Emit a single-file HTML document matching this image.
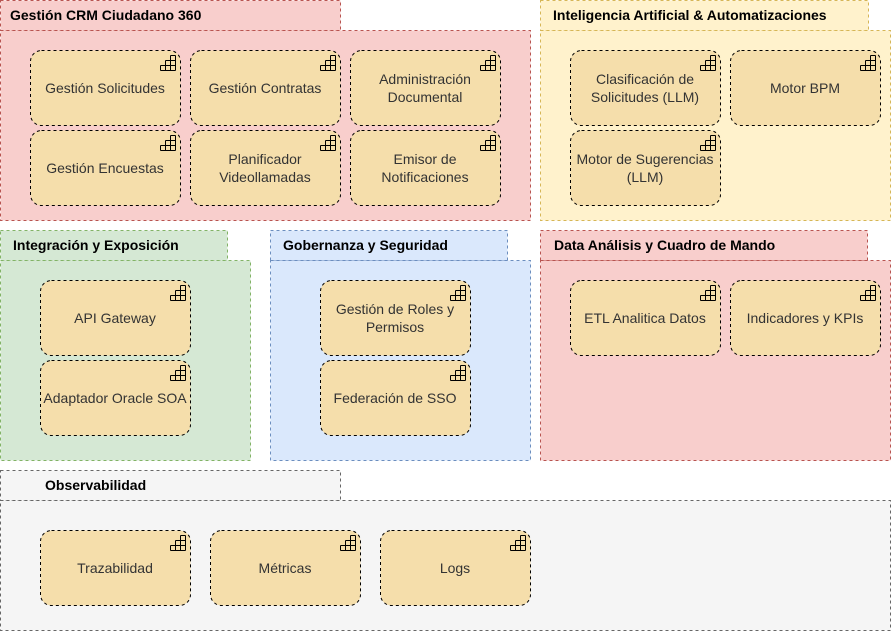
<!DOCTYPE html>
<html><head><meta charset="utf-8"><style>
html,body{margin:0;padding:0;background:#fff;}
svg{display:block;font-family:"Liberation Sans",Arial,sans-serif;}
.t{font-size:14px;font-weight:bold;fill:#000;}
.n{font-size:14px;fill:#333;text-anchor:middle;}
</style></head><body>
<svg width="892" height="631" viewBox="0 0 892 631" xmlns="http://www.w3.org/2000/svg">
<defs>
<g id="ic" fill="none" stroke="#000" stroke-width="1">
<path d="M0.5,10.5h15M0.5,15.5h15M5.5,5.5h10M10.5,0.5h5M0.5,10.5v5M5.5,5.5v10M10.5,0.5v15M15.5,0.5v15"/>
</g>
</defs>
<g stroke-dasharray="3,3" stroke-width="1">
<rect x="0.5" y="0.5" width="340" height="30" fill="#f8cecc" stroke="#b85450"/>
<rect x="0.5" y="30.5" width="530" height="190" fill="#f8cecc" stroke="#b85450"/>
<rect x="540.5" y="0.5" width="328" height="30" fill="#fff2cc" stroke="#d6b656"/>
<rect x="540.5" y="30.5" width="350" height="190" fill="#fff2cc" stroke="#d6b656"/>
<rect x="0.5" y="230.5" width="227" height="30" fill="#d5e8d4" stroke="#82b366"/>
<rect x="0.5" y="260.5" width="250" height="200" fill="#d5e8d4" stroke="#82b366"/>
<rect x="270.5" y="230.5" width="237" height="30" fill="#dae8fc" stroke="#6c8ebf"/>
<rect x="270.5" y="260.5" width="260" height="200" fill="#dae8fc" stroke="#6c8ebf"/>
<rect x="540.5" y="230.5" width="327" height="30" fill="#f8cecc" stroke="#b85450"/>
<rect x="540.5" y="260.5" width="350" height="200" fill="#f8cecc" stroke="#b85450"/>
<rect x="0.5" y="470.5" width="340" height="30" fill="#f5f5f5" stroke="#666666"/>
<rect x="0.5" y="500.5" width="890" height="130" fill="#f5f5f5" stroke="#666666"/>
</g>
<text class="t" x="10" y="20">Gestión CRM Ciudadano 360</text>
<text class="t" x="553" y="20">Inteligencia Artificial &amp; Automatizaciones</text>
<text class="t" x="13" y="250">Integración y Exposición</text>
<text class="t" x="283" y="250">Gobernanza y Seguridad</text>
<text class="t" x="554" y="250">Data Análisis y Cuadro de Mando</text>
<text class="t" x="45" y="490">Observabilidad</text>

<g fill="#f5deab" stroke="#000" stroke-dasharray="3,3">
<rect x="30.5" y="50.5" width="150" height="75" rx="11"/>
<rect x="190.5" y="50.5" width="150" height="75" rx="11"/>
<rect x="350.5" y="50.5" width="150" height="75" rx="11"/>
<rect x="30.5" y="130.5" width="150" height="75" rx="11"/>
<rect x="190.5" y="130.5" width="150" height="75" rx="11"/>
<rect x="350.5" y="130.5" width="150" height="75" rx="11"/>
<rect x="570.5" y="50.5" width="150" height="75" rx="11"/>
<rect x="730.5" y="50.5" width="150" height="75" rx="11"/>
<rect x="570.5" y="130.5" width="150" height="75" rx="11"/>
<rect x="40.5" y="280.5" width="150" height="75" rx="11"/>
<rect x="40.5" y="360.5" width="150" height="75" rx="11"/>
<rect x="320.5" y="280.5" width="150" height="75" rx="11"/>
<rect x="320.5" y="360.5" width="150" height="75" rx="11"/>
<rect x="570.5" y="280.5" width="150" height="75" rx="11"/>
<rect x="730.5" y="280.5" width="150" height="75" rx="11"/>
<rect x="40.5" y="530.5" width="150" height="75" rx="11"/>
<rect x="210.5" y="530.5" width="150" height="75" rx="11"/>
<rect x="380.5" y="530.5" width="150" height="75" rx="11"/>
</g>
<use href="#ic" x="160" y="55"/><use href="#ic" x="320" y="55"/><use href="#ic" x="480" y="55"/>
<use href="#ic" x="160" y="135"/><use href="#ic" x="320" y="135"/><use href="#ic" x="480" y="135"/>
<use href="#ic" x="700" y="55"/><use href="#ic" x="860" y="55"/><use href="#ic" x="700" y="135"/>
<use href="#ic" x="170" y="285"/><use href="#ic" x="170" y="365"/>
<use href="#ic" x="450" y="285"/><use href="#ic" x="450" y="365"/>
<use href="#ic" x="700" y="285"/><use href="#ic" x="860" y="285"/>
<use href="#ic" x="170" y="535"/><use href="#ic" x="340" y="535"/><use href="#ic" x="510" y="535"/>

<text class="n" x="105" y="93">Gestión Solicitudes</text>
<text class="n" x="265" y="93">Gestión Contratas</text>
<text class="n" x="425" y="84">Administración</text>
<text class="n" x="425" y="102">Documental</text>
<text class="n" x="105" y="173">Gestión Encuestas</text>
<text class="n" x="265" y="164">Planificador</text>
<text class="n" x="265" y="182">Videollamadas</text>
<text class="n" x="425" y="164">Emisor de</text>
<text class="n" x="425" y="182">Notificaciones</text>
<text class="n" x="645" y="84">Clasificación de</text>
<text class="n" x="645" y="102">Solicitudes (LLM)</text>
<text class="n" x="805" y="93">Motor BPM</text>
<text class="n" x="645" y="164">Motor de Sugerencias</text>
<text class="n" x="645" y="182">(LLM)</text>
<text class="n" x="115" y="323">API Gateway</text>
<text class="n" x="115" y="403">Adaptador Oracle SOA</text>
<text class="n" x="395" y="314">Gestión de Roles y</text>
<text class="n" x="395" y="332">Permisos</text>
<text class="n" x="395" y="403">Federación de SSO</text>
<text class="n" x="645" y="323">ETL Analitica Datos</text>
<text class="n" x="805" y="323">Indicadores y KPIs</text>
<text class="n" x="115" y="573">Trazabilidad</text>
<text class="n" x="285" y="573">Métricas</text>
<text class="n" x="455" y="573">Logs</text>
</svg>
</body></html>
